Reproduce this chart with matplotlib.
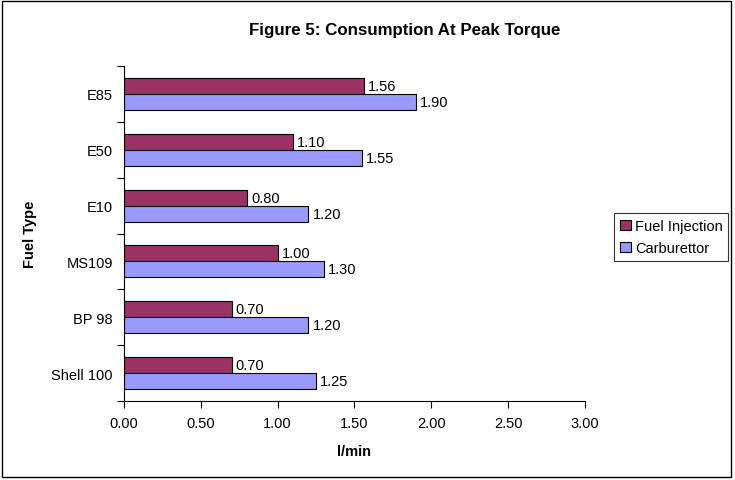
import numpy as np
import matplotlib
matplotlib.use('Agg')
import matplotlib.pyplot as plt
from matplotlib.patches import Rectangle, Patch

# Chart data
fuel_types = ['Shell 100', 'BP 98', 'MS109', 'E10', 'E50', 'E85']
fuel_injection = [0.70, 0.70, 1.00, 0.80, 1.10, 1.56]
carburettor = [1.25, 1.20, 1.30, 1.20, 1.55, 1.90]
x_ticks = [0.0, 0.5, 1.0, 1.5, 2.0, 2.5, 3.0]

plt.rcParams['font.family'] = ['Liberation Sans', 'DejaVu Sans']

fig = plt.figure(figsize=(7.35, 4.81), dpi=100)
fig.patches.append(Rectangle((0.003, 0.006), 0.992, 0.99, transform=fig.transFigure,
                             fill=False, edgecolor='black', linewidth=1.0))

ax = fig.add_axes([0.1687, 0.1642, 0.6272, 0.6965])

y = np.arange(len(fuel_types))
bar_h = 0.287
bars_fi = ax.barh(y + bar_h / 2, fuel_injection, height=bar_h, color='#993366',
                  edgecolor='black', linewidth=0.8, label='Fuel Injection')
bars_cb = ax.barh(y - bar_h / 2, carburettor, height=bar_h, color='#9999FF',
                  edgecolor='black', linewidth=0.8, label='Carburettor')

for bars, vals in [(bars_fi, fuel_injection), (bars_cb, carburettor)]:
    for b, v in zip(bars, vals):
        ax.annotate(f'{v:.2f}', (v, b.get_y() + b.get_height() / 2),
                    xytext=(3, 0), textcoords='offset points',
                    va='center', ha='left', fontsize=10.5)

ax.set_xlim(0, 3.0)
ax.set_ylim(-0.5, len(fuel_types) - 0.5)
ax.set_xticks(x_ticks)
ax.set_xticklabels([f'{t:.2f}' for t in x_ticks], fontsize=10.5)
ax.tick_params(axis='x', length=5, width=0.8, pad=6)

# category boundaries as ticks, labels centred between them
ax.set_yticks(np.arange(-0.5, len(fuel_types), 1.0))
ax.set_yticklabels([])
ax.set_yticks(y, minor=True)
ax.set_yticklabels(fuel_types, minor=True, fontsize=10.5)
ax.tick_params(axis='y', which='major', length=5, width=0.8)
ax.tick_params(axis='y', which='minor', length=0, pad=8)

for s in ['top', 'right']:
    ax.spines[s].set_visible(False)
ax.spines['left'].set_linewidth(0.8)
ax.spines['bottom'].set_linewidth(0.8)

fig.text(0.55, 0.937, 'Figure 5: Consumption At Peak Torque', ha='center', va='center',
         fontsize=12.2, fontweight='bold')
fig.text(0.482, 0.06, 'l/min', ha='center', va='center', fontsize=10.5, fontweight='bold')
fig.text(0.041, 0.512, 'Fuel Type', ha='center', va='center', rotation=90,
         fontsize=10.5, fontweight='bold')

handles = [Patch(facecolor='#993366', edgecolor='black', linewidth=0.8, label='Fuel Injection'),
           Patch(facecolor='#9999FF', edgecolor='black', linewidth=0.8, label='Carburettor')]
leg = fig.legend(handles=handles, loc='center left', bbox_to_anchor=(0.836, 0.505),
                 fontsize=10.5, frameon=True, fancybox=False, handlelength=0.7,
                 handleheight=0.7, handletextpad=0.3, borderpad=0.4, labelspacing=0.55,
                 borderaxespad=0)
leg.get_frame().set_edgecolor('black')
leg.get_frame().set_linewidth(0.8)

fig.savefig('out.png', dpi=100)
